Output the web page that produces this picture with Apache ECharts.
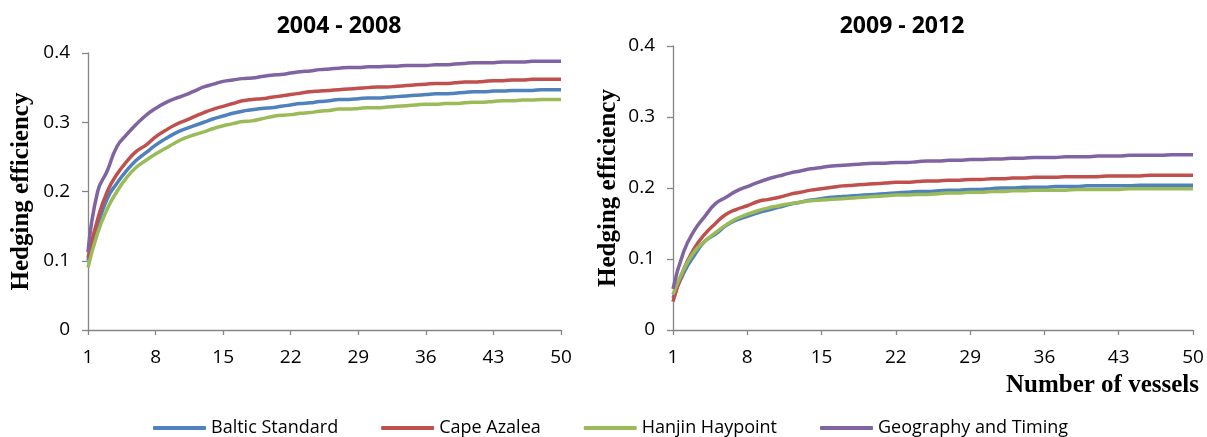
<!DOCTYPE html>
<html>
<head>
<meta charset="utf-8">
<script src="https://cdn.jsdelivr.net/npm/echarts@6/dist/echarts.min.js"></script>
<style>
  html, body { margin: 0; padding: 0; background: #fff; }
  #chart { width: 1207px; height: 437px; }
</style>
</head>
<body>
<div id="chart"></div>
<script>
// number of vessels 1..50
const VESSELS = Array.from({ length: 50 }, (_, i) => String(i + 1));

const SERIES_NAMES = ["Baltic Standard", "Cape Azalea", "Hanjin Haypoint", "Geography and Timing"];
const COLORS = ["#4F81BD", "#C0504D", "#9BBB59", "#8064A2"];

// 2004 - 2008
const early_baltic = [
  0.100, 0.150, 0.190, 0.212, 0.230, 0.245, 0.256, 0.267, 0.276, 0.284,
  0.290, 0.295, 0.300, 0.305, 0.309, 0.313, 0.316, 0.318, 0.320, 0.321,
  0.323, 0.325, 0.327, 0.328, 0.330, 0.331, 0.333, 0.333, 0.334, 0.335,
  0.335, 0.336, 0.337, 0.338, 0.339, 0.340, 0.341, 0.341, 0.342, 0.343,
  0.344, 0.344, 0.345, 0.345, 0.346, 0.346, 0.346, 0.347, 0.347, 0.347,
];
const early_cape = [
  0.104, 0.160, 0.200, 0.225, 0.243, 0.258, 0.267, 0.279, 0.288, 0.296,
  0.302, 0.308, 0.314, 0.319, 0.323, 0.327, 0.331, 0.333, 0.334, 0.336,
  0.338, 0.340, 0.342, 0.344, 0.345, 0.346, 0.347, 0.348, 0.349, 0.350,
  0.351, 0.351, 0.352, 0.353, 0.354, 0.355, 0.356, 0.356, 0.357, 0.358,
  0.358, 0.359, 0.360, 0.360, 0.361, 0.361, 0.362, 0.362, 0.362, 0.362,
];
const early_hanjin = [
  0.090, 0.140, 0.175, 0.200, 0.220, 0.235, 0.245, 0.254, 0.262, 0.270,
  0.277, 0.282, 0.286, 0.291, 0.295, 0.298, 0.301, 0.302, 0.305, 0.308,
  0.310, 0.311, 0.313, 0.314, 0.316, 0.317, 0.319, 0.319, 0.320, 0.321,
  0.321, 0.322, 0.323, 0.324, 0.325, 0.326, 0.326, 0.327, 0.327, 0.328,
  0.329, 0.329, 0.330, 0.331, 0.331, 0.332, 0.332, 0.333, 0.333, 0.333,
];
const early_geo = [
  0.112, 0.200, 0.230, 0.265, 0.282, 0.297, 0.310, 0.320, 0.328, 0.334,
  0.339, 0.345, 0.351, 0.355, 0.359, 0.361, 0.363, 0.364, 0.366, 0.368,
  0.369, 0.371, 0.373, 0.374, 0.376, 0.377, 0.378, 0.379, 0.379, 0.380,
  0.380, 0.381, 0.381, 0.382, 0.382, 0.382, 0.383, 0.383, 0.384, 0.385,
  0.386, 0.386, 0.386, 0.387, 0.387, 0.387, 0.388, 0.388, 0.388, 0.388,
];

// 2009 - 2012
const late_baltic = [
  0.045, 0.080, 0.105, 0.125, 0.135, 0.147, 0.155, 0.160, 0.165, 0.169,
  0.173, 0.177, 0.180, 0.183, 0.185, 0.187, 0.188, 0.189, 0.190, 0.191,
  0.192, 0.193, 0.194, 0.195, 0.195, 0.196, 0.197, 0.197, 0.198, 0.198,
  0.199, 0.200, 0.200, 0.201, 0.201, 0.201, 0.202, 0.202, 0.202, 0.203,
  0.203, 0.203, 0.203, 0.203, 0.204, 0.204, 0.204, 0.204, 0.204, 0.204,
];
const late_cape = [
  0.040, 0.085, 0.115, 0.135, 0.150, 0.163, 0.170, 0.175, 0.181, 0.184,
  0.187, 0.191, 0.194, 0.197, 0.199, 0.201, 0.203, 0.204, 0.205, 0.206,
  0.207, 0.208, 0.208, 0.209, 0.210, 0.210, 0.211, 0.211, 0.212, 0.212,
  0.213, 0.213, 0.214, 0.214, 0.215, 0.215, 0.215, 0.216, 0.216, 0.216,
  0.216, 0.217, 0.217, 0.217, 0.217, 0.218, 0.218, 0.218, 0.218, 0.218,
];
const late_hanjin = [
  0.050, 0.085, 0.110, 0.125, 0.137, 0.148, 0.157, 0.163, 0.168, 0.172,
  0.175, 0.178, 0.180, 0.182, 0.183, 0.184, 0.185, 0.186, 0.187, 0.188,
  0.189, 0.190, 0.190, 0.191, 0.191, 0.192, 0.193, 0.193, 0.194, 0.194,
  0.195, 0.195, 0.196, 0.196, 0.197, 0.197, 0.197, 0.197, 0.198, 0.198,
  0.198, 0.198, 0.198, 0.199, 0.199, 0.199, 0.199, 0.199, 0.199, 0.199,
];
const late_geo = [
  0.058, 0.110, 0.140, 0.160, 0.178, 0.187, 0.196, 0.202, 0.208, 0.213,
  0.217, 0.221, 0.224, 0.227, 0.229, 0.231, 0.232, 0.233, 0.234, 0.235,
  0.235, 0.236, 0.236, 0.237, 0.238, 0.238, 0.239, 0.239, 0.240, 0.240,
  0.241, 0.241, 0.242, 0.242, 0.243, 0.243, 0.243, 0.244, 0.244, 0.244,
  0.245, 0.245, 0.245, 0.246, 0.246, 0.246, 0.246, 0.247, 0.247, 0.247,
];

const Y_TICKS = { min: 0, max: 0.4, interval: 0.1 };
const AXIS_GREY = "#868686";
const TICK_FONT = "Open Sans";
const NAME_FONT = "Liberation Serif";

const chart = echarts.init(document.getElementById("chart"));

function xAxis(gridIndex) {
  return {
    gridIndex,
    type: "category",
    data: VESSELS,
    boundaryGap: false,
    axisLine: { lineStyle: { color: AXIS_GREY, width: 1.3 } },
    axisTick: { interval: 6, length: 5, lineStyle: { color: AXIS_GREY, width: 1.3 } },
    axisLabel: { interval: 6, margin: 18, color: "#000", fontFamily: TICK_FONT, fontSize: 19 },
    splitLine: { show: false },
  };
}

function yAxis(gridIndex, nameGap) {
  return {
    gridIndex,
    type: "value",
    ...Y_TICKS,
    name: "Hedging efficiency",
    nameLocation: "middle",
    nameGap,
    nameTextStyle: { fontFamily: NAME_FONT, fontWeight: "bold", fontSize: 25, color: "#000" },
    axisLine: { show: true, lineStyle: { color: AXIS_GREY, width: 1.3 } },
    axisTick: { show: true, length: 6, lineStyle: { color: AXIS_GREY, width: 1.3 } },
    axisLabel: { margin: 18, color: "#000", fontFamily: TICK_FONT, fontSize: 19 },
    splitLine: { show: false },
  };
}

function lines(idx, values) {
  return values.map((data, i) => ({
    name: SERIES_NAMES[i],
    type: "line",
    xAxisIndex: idx,
    yAxisIndex: idx,
    smooth: true,
    showSymbol: false,
    lineStyle: { color: COLORS[i], width: 3.5 },
    itemStyle: { color: COLORS[i] },
    data,
  }));
}

chart.setOption({
  animation: false,
  title: [
    { text: "2004 - 2008", left: 334, top: 10, textAlign: "center",
      textStyle: { fontFamily: TICK_FONT, fontWeight: "bold", fontSize: 23, color: "#000" } },
    { text: "2009 - 2012", left: 897, top: 10, textAlign: "center",
      textStyle: { fontFamily: TICK_FONT, fontWeight: "bold", fontSize: 23, color: "#000" } },
    { text: "Number of vessels", right: 3, top: 368,
      textStyle: { fontFamily: NAME_FONT, fontWeight: "bold", fontSize: 25, color: "#000" } },
  ],
  legend: {
    data: SERIES_NAMES,
    left: 148,
    top: 414,
    icon: "roundRect",
    itemWidth: 53,
    itemHeight: 4,
    itemGap: 43,
    textStyle: { fontFamily: TICK_FONT, fontSize: 18, color: "#000" },
  },
  grid: [
    { left: 88, right: 646, top: 53, bottom: 107 },
    { left: 673, right: 14, top: 46, bottom: 107 },
  ],
  xAxis: [xAxis(0), xAxis(1)],
  yAxis: [yAxis(0, 54), yAxis(1, 52)],
  series: [
    ...lines(0, [early_baltic, early_cape, early_hanjin, early_geo]),
    ...lines(1, [late_baltic, late_cape, late_hanjin, late_geo]),
  ],
});
</script>
</body>
</html>
